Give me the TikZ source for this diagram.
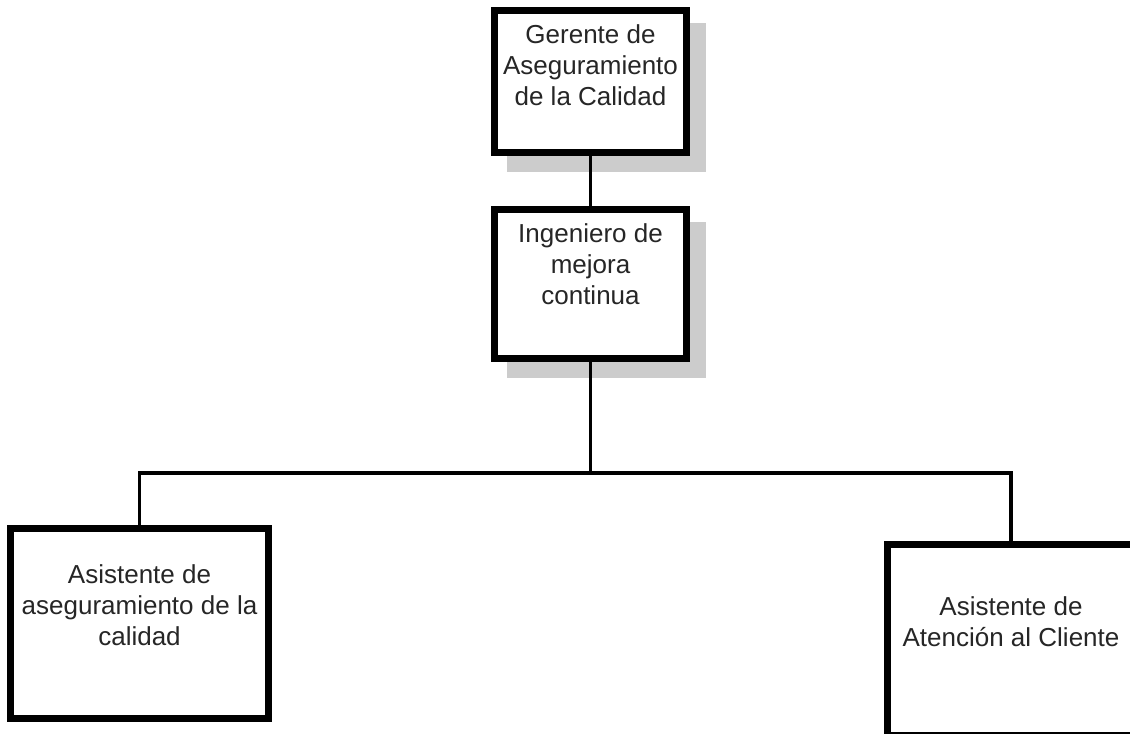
\documentclass[tikz,border=0pt]{standalone}
\usepackage{fontspec}
\setmainfont{Liberation Sans}
\usetikzlibrary{backgrounds}

\tikzset{
  orgbox/.style={draw=black, fill=white, line width=5.25pt, rectangle, inner sep=0pt},
  boxtext/.style={anchor=north, align=center, inner sep=0pt,
    font=\fontsize{19.5pt}{23.25pt}\selectfont, text=black!85},
  link/.style={draw=black, line width=2.4pt},
  shadowfill/.style={fill=black!20},
}

\begin{document}
\begin{tikzpicture}[x=0.75pt, y=-0.75pt]
  \useasboundingbox (0,0) rectangle (1130,733);
  \clip (0,0) rectangle (1130,733);

  % boxes of the chart
  \node[orgbox, minimum width=144pt, minimum height=106.5pt] (ger) at (590.5,81.5) {};
  \node[orgbox, minimum width=144pt, minimum height=111.75pt] (ing) at (590.5,284) {};
  \node[orgbox, minimum width=193.5pt, minimum height=142.5pt] (aac) at (139.5,623.5) {};
  \node[orgbox, minimum width=196.9pt, minimum height=143.25pt] (aat) at (1018.75,640) {};

  % box titles
  \node[boxtext] (tger) at (590.5,24) {Gerente de\\Aseguramiento\\de la Calidad};
  \node[boxtext] (ting) at (590.5,223) {Ingeniero de\\mejora\\continua};
  \node[boxtext] (taac) at (139.5,564) {Asistente de\\aseguramiento de la\\calidad};
  \node[boxtext] (taat) at (1011,596) {Asistente de\\Atención al Cliente};

  % drop shadows behind the two upper boxes
  \begin{scope}[on background layer]
    \fill[shadowfill] ([shift={(16,16)}]ger.north west) rectangle ([shift={(16,16)}]ger.south east);
    \fill[shadowfill] ([shift={(16,16)}]ing.north west) rectangle ([shift={(16,16)}]ing.south east);
  \end{scope}

  % connectors
  \coordinate (bus) at (590.5,473);
  \draw[link] (ger.south) -- (ing.north);
  \draw[link] (ing.south) -- (bus);
  \draw[link] (aac.north) |- (bus) -| (taat.north |- aat.north);
\end{tikzpicture}
\end{document}
